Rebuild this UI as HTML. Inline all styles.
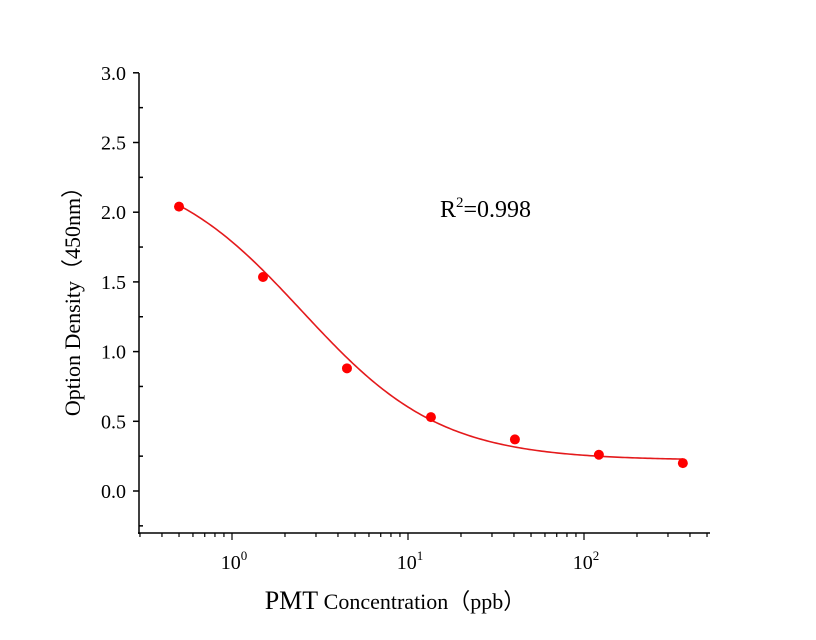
<!DOCTYPE html>
<html><head><meta charset="utf-8"><style>body{margin:0;background:#fff}svg{display:block}text{font-family:"Liberation Serif",serif;fill:#000}</style></head>
<body>
<svg id="chart" width="816" height="640" xmlns="http://www.w3.org/2000/svg"></svg>
<script>
const concs=[0.5,1.5,4.5,13.5,40.5,121.5,364.5];
const ods=[2.04,1.535,0.88,0.53,0.37,0.26,0.20];
const yTicks=[0,0.5,1.0,1.5,2.0,2.5,3.0];
const xDecades=[0,1,2];
const fitA=2.36,fitB=1.1,fitC=2.5,fitD=0.22;
const NS="http://www.w3.org/2000/svg";
const svg=document.getElementById('chart');
const X=v=>232+176*Math.log10(v);
const Y=v=>491-139.4*v;
function el(t,a,p){const e=document.createElementNS(NS,t);for(const k in a)e.setAttribute(k,a[k]);(p||svg).appendChild(e);return e;}
const ax=el('g',{});


el('line',{x1:139,y1:73,x2:139,y2:534,stroke:'#000','stroke-width':1.5},ax);
el('line',{x1:138,y1:533,x2:710,y2:533,stroke:'#000','stroke-width':1.5},ax);
yTicks.forEach(v=>{
  el('line',{x1:133,y1:Y(v),x2:139,y2:Y(v),stroke:'#000','stroke-width':1.5},ax);
  const t=el('text',{x:126,y:Y(v)+7,'text-anchor':'end','font-size':20},ax);t.textContent=v.toFixed(1);
  
  
});
for(let v=-0.25;v<3;v+=0.5){el('line',{x1:139,y1:Y(v),x2:143,y2:Y(v),stroke:'#000','stroke-width':1.5},ax);}
for(let d=-1;d<=2;d++){for(let m=1;m<=9;m++){const v=m*Math.pow(10,d);const x=X(v);if(x<139||x>710)continue;
  el('line',{x1:x,y1:533,x2:x,y2:m==1?540:537,stroke:'#000','stroke-width':1.2},ax);}}
xDecades.forEach(d=>{
  const t=el('text',{x:X(Math.pow(10,d))+2,y:569,'text-anchor':'middle','font-size':20},ax);
  t.innerHTML='10<tspan dy="-9" font-size="13">'+d+'</tspan>';
  
  
});
const xt=el('text',{x:395,y:609,'text-anchor':'middle','font-size':22});
xt.innerHTML='<tspan font-size="26">PMT</tspan> Concentration（ppb）';


const yt=el('text',{x:0,y:0,'text-anchor':'middle','font-size':22,transform:'translate(80,296) rotate(-90)'});
yt.setAttribute('font-family','"Liberation Serif","Noto Serif CJK SC",serif');
yt.textContent='Option Density（450nm）';


const r2=el('text',{x:440,y:217,'font-size':24});
r2.innerHTML='R<tspan dy="-10" font-size="15">2</tspan><tspan dy="10">=0.998</tspan>';


let d='';const lo=Math.log10(concs[0]),hi=Math.log10(concs[concs.length-1]);
for(let i=0;i<=200;i++){const lx=lo+(hi-lo)*i/200,c=Math.pow(10,lx);const y=fitD+(fitA-fitD)/(1+Math.pow(c/fitC,fitB));d+=(i?'L':'M')+X(c).toFixed(2)+','+Y(y).toFixed(2);}
const cv=el('path',{d:d,fill:'none',stroke:'#e41a1c','stroke-width':1.6});


concs.forEach((c,i)=>{const p=el('circle',{cx:X(c),cy:Y(ods[i]),r:5,fill:'#f00'});
  
  });
</script>
</body></html>
